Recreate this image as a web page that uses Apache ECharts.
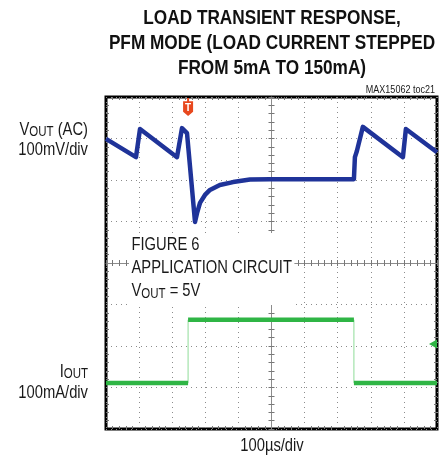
<!DOCTYPE html>
<html>
<head>
<meta charset="utf-8">
<script src="https://cdn.jsdelivr.net/npm/echarts@6/dist/echarts.min.js"></script>
<style>
  html, body { margin: 0; padding: 0; background: #fff; }
  #chart { width: 440px; height: 461px; }
</style>
</head>
<body>
<div id="chart"></div>
<script>
// time in µs (100µs/div), trace levels in screen divisions (0 = bottom, 8 = top)
const voutTime = [0, 90.6, 102.7, 214.5, 229.6, 244.7, 268.9, 275, 284, 299, 314, 344, 384, 435, 495, 749, 752, 758, 764, 776, 897, 906, 1000]
const voutLevel = [6.99, 6.55, 7.23, 6.55, 7.25, 7.13, 4.99, 5.20, 5.45, 5.64, 5.76, 5.88, 5.95, 6.01, 6.02, 6.02, 6.55, 6.70, 6.72, 7.28, 6.55, 7.23, 6.67]

const ioutTime = [0, 248, 248, 749, 749, 1000]
const ioutLevel = [1.11, 1.11, 2.63, 2.63, 1.11, 1.11]

const triggerTime = 248
const ioutMarkerLevel = 2.05

const xTicks = [0, 1000, 100]
const yTicks = [0, 8, 1]

// Arial Narrow look: Liberation Sans squeezed horizontally
const font = "'Liberation Sans', Arial, sans-serif"
const narrow = 0.82
const blue = '#1f3399'
const green = '#2fb545'

const voutData = voutTime.map((t, i) => [t, voutLevel[i]])
const ioutData = ioutTime.map((t, i) => [t, ioutLevel[i]])
// thick plateaus only, the fast edges are drawn thin
const ioutFlat = []
ioutData.forEach((p, i) => {
  if (i > 0 && p[0] === ioutData[i - 1][0]) ioutFlat.push(null)
  ioutFlat.push(p)
})

const dotted = { show: true, lineStyle: { color: '#8c8c8c', width: 1, type: [1, 4] } }

function xAx(extra) {
  return Object.assign({
    type: 'value', min: xTicks[0], max: xTicks[1], interval: xTicks[2],
    axisLine: { show: false, onZero: false },
    axisTick: { show: false, inside: true },
    minorTick: { show: true, splitNumber: 5, length: 3, lineStyle: { color: '#777' } },
    axisLabel: { show: false },
    splitLine: { show: false }
  }, extra)
}
function yAx(extra) {
  return Object.assign({
    type: 'value', min: yTicks[0], max: yTicks[1], interval: yTicks[2],
    axisLine: { show: false, onZero: false },
    axisTick: { show: false, inside: true },
    minorTick: { show: true, splitNumber: 5, length: 3, lineStyle: { color: '#777' } },
    axisLabel: { show: false },
    splitLine: { show: false }
  }, extra)
}
const center = { show: true, onZero: false, lineStyle: { color: '#8c8c8c', width: 1 } }

function label(x, y, style) {
  return { type: 'text', x: x, y: y, z: 10, scaleX: narrow, style: Object.assign({ fill: '#1a1a1a' }, style) }
}
const sub = {
  v: { font: '18px ' + font, fill: '#1a1a1a' },
  s: { font: '14px ' + font, fill: '#1a1a1a', padding: [5, 0, 0, 0] }
}

const chart = echarts.init(document.getElementById('chart'))
chart.setOption({
  animation: false,
  grid: { left: 106, top: 97, width: 331, height: 332, show: true, borderColor: '#000', borderWidth: 3, backgroundColor: 'transparent' },
  xAxis: [
    xAx({ position: 'bottom', splitLine: dotted }),
    xAx({ position: 'top' }),
    xAx({ position: 'bottom', offset: -166, axisLine: center, axisTick: { show: true, inside: true, length: 3, lineStyle: { color: '#777' } } }),
    xAx({ position: 'bottom', offset: -166, axisTick: { show: true, inside: false, length: 3, lineStyle: { color: '#777' } } })
  ],
  yAxis: [
    yAx({ position: 'left', splitLine: dotted }),
    yAx({ position: 'right' }),
    yAx({ position: 'left', offset: -165.5, axisLine: center, axisTick: { show: true, inside: true, length: 3, lineStyle: { color: '#777' } } }),
    yAx({ position: 'left', offset: -165.5, axisTick: { show: true, inside: false, length: 3, lineStyle: { color: '#777' } } })
  ],
  series: [
    {
      type: 'line', data: ioutData, showSymbol: false, silent: true,
      lineStyle: { color: '#8fdc98', width: 1 }
    },
    {
      type: 'line', data: ioutFlat, showSymbol: false, silent: true, connectNulls: false,
      lineStyle: { color: green, width: 4.5 },
      markPoint: {
        silent: true,
        data: [{ coord: [xTicks[1], ioutMarkerLevel] }],
        symbol: 'triangle', symbolRotate: 90, symbolSize: [9, 8], symbolOffset: [-4, 0],
        itemStyle: { color: green }, label: { show: false }
      }
    },
    {
      type: 'line', data: voutData, showSymbol: false, silent: true,
      lineStyle: { color: blue, width: 4.5, join: 'round' },
      markPoint: {
        silent: true,
        data: [{ coord: [triggerTime, yTicks[1]] }],
        symbol: 'path://M4,0 H6 V3 H10 V13 L5,17 L0,13 V3 H4 Z',
        symbolSize: [10, 18], symbolOffset: [0, 10],
        itemStyle: { color: '#e8481e' },
        label: { show: true, formatter: 'T', color: '#fff', fontSize: 10, fontWeight: 'bold', fontFamily: font, offset: [0, 1] }
      }
    }
  ],
  graphic: [
    label(272, 6, {
      text: 'LOAD TRANSIENT RESPONSE,\nPFM MODE (LOAD CURRENT STEPPED\nFROM 5mA TO 150mA)',
      font: 'bold 21px ' + font, lineHeight: 25, fill: '#111', align: 'center', verticalAlign: 'top'
    }),
    label(435, 90, { text: 'MAX15062 toc21', font: '11px ' + font, align: 'right', verticalAlign: 'middle' }),
    label(88, 130, { text: '{v|V}{s|OUT}{v| (AC)}', align: 'right', verticalAlign: 'middle', rich: sub }),
    label(88, 150, { text: '100mV/div', font: '18px ' + font, align: 'right', verticalAlign: 'middle' }),
    label(88, 372, { text: '{v|I}{s|OUT}', align: 'right', verticalAlign: 'middle', rich: sub }),
    label(88, 393, { text: '100mA/div', font: '18px ' + font, align: 'right', verticalAlign: 'middle' }),
    label(272, 446, { text: '100µs/div', font: '18px ' + font, align: 'center', verticalAlign: 'middle' }),
    label(129, 233, {
      text: 'FIGURE 6\nAPPLICATION CIRCUIT\n{v|V}{s|OUT}{v| = 5V}',
      font: '18px ' + font, lineHeight: 23, align: 'left', verticalAlign: 'top',
      backgroundColor: '#fff', padding: [1, 3, 2, 3], rich: sub
    })
  ]
})
</script>
</body>
</html>
